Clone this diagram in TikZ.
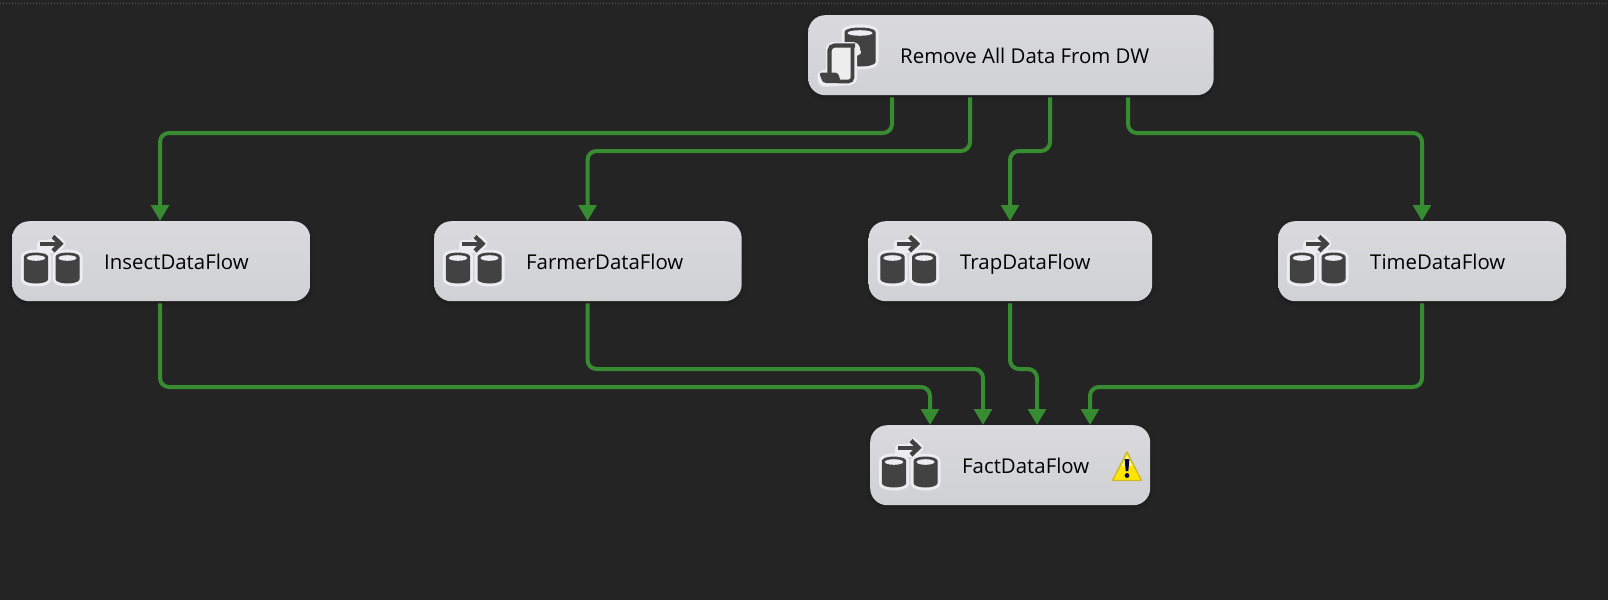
\documentclass[tikz,border=0pt]{standalone}
\usepackage{fontspec}
\setmainfont{Open Sans}
\usetikzlibrary{arrows.meta,shadows.blur}
\definecolor{bgc}{HTML}{242424}
\definecolor{flowc}{HTML}{378C32}
\definecolor{icoc}{HTML}{424242}
\definecolor{haloc}{HTML}{EDEDEF}
\definecolor{boxtop}{HTML}{DADADE}
\definecolor{boxbot}{HTML}{D0D1D3}
\tikzset{
  x=1pt,y=-1pt,
  taskbox/.style={rounded corners=17pt,inner sep=0pt,top color=boxtop,bottom color=boxbot,draw=none,anchor=north west,blur shadow={shadow xshift=0pt,shadow yshift=-2pt,shadow blur radius=4pt,shadow opacity=25}},
  tasklabel/.style={anchor=base west,inner sep=0pt,font=\fontsize{20.4}{24}\selectfont,text=black},
  flow/.style={draw=flowc,line width=4pt,rounded corners=9pt,-{Triangle[length=16pt,width=17.5pt,fill=flowc]}},
  pics/barrel/.style args={#1/#2}{code={
    \path[fill=haloc,draw=haloc,line width=7pt,line join=round]
      (0,4) arc[start angle=180,end angle=0,x radius=#1/2,y radius=-4] -- (#1,#2-4)
      arc[start angle=0,end angle=180,x radius=#1/2,y radius=4] -- cycle;
    \path[fill=icoc,draw=icoc,line width=1pt,line join=round]
      (0,4) arc[start angle=180,end angle=0,x radius=#1/2,y radius=-4] -- (#1,#2-4)
      arc[start angle=0,end angle=180,x radius=#1/2,y radius=4] -- cycle;
    \fill[haloc] (#1/2,5) ellipse ({#1/2-2.5} and 2.8);
  }},
  pics/flowicon/.style={code={
    \pic at (12.3,32) {barrel=23.4/30};
    \pic at (44,32) {barrel=23/30};
    \fill[haloc,rounded corners=4pt] (25,19) -- (40,19) -- (40,13) -- (46,13) -- (55,22.7) -- (46,32) -- (25,32) -- cycle;
    \draw[icoc,line width=4.4pt] (28,22.7) -- (47,22.7);
    \draw[icoc,line width=4.4pt,line join=miter] (41,15.5) -- (48.5,22.7) -- (41,30);
  }},
}
\begin{document}
\begin{tikzpicture}
\useasboundingbox (0,0) rectangle (1608,600);
\fill[bgc] (0,0) rectangle (1608,600);
\draw[draw=white!25!bgc,line width=1pt,dotted] (0,3.5) -- (1608,3.5);

% boxes
\node[taskbox,minimum width=405.5pt,minimum height=80pt] (rm) at (808,15) {};
\node[taskbox,minimum width=298pt,minimum height=80pt] (ins) at (12,221) {};
\node[taskbox,minimum width=307.5pt,minimum height=80pt] (far) at (434,221) {};
\node[taskbox,minimum width=283.5pt,minimum height=80pt] (trp) at (868.5,221) {};
\node[taskbox,minimum width=288pt,minimum height=80pt] (tim) at (1278,221) {};
\node[taskbox,minimum width=280pt,minimum height=80pt] (fct) at (870,425) {};

% labels
\node[tasklabel] (lrm) at (900,63.5) {Remove All Data From DW};
\node[tasklabel] (lins) at (104,269.5) {InsectDataFlow};
\node[tasklabel] (lfar) at (526,269.5) {FarmerDataFlow};
\node[tasklabel] (ltrp) at (960,269.5) {TrapDataFlow};
\node[tasklabel] (ltim) at (1370,269.5) {TimeDataFlow};
\node[tasklabel] (lfct) at (962,473.5) {FactDataFlow};

% icons
\pic at (12,221) {flowicon};
\pic at (434,221) {flowicon};
\pic at (868.5,221) {flowicon};
\pic at (1278,221) {flowicon};
\pic at (870,425) {flowicon};

% remove icon
\pic at (845,28) {barrel=30/38};
\fill[haloc,draw=haloc,line width=6pt,line join=round,rounded corners=4pt]
  (829,45) -- (857,45) -- (857,52) -- (854,52) -- (854,82) -- (821,84) -- (820,73) -- (829,73) -- cycle;
\fill[white!93!black] (831,47) rectangle (851,80);
\draw[icoc,line width=4.2pt,rounded corners=5pt]
  (829.5,73) -- (829.5,45.5) -- (855,45.5);
\draw[icoc,line width=3.6pt,rounded corners=4pt]
  (852.5,47) -- (852.5,81.5) -- (838,81.5);
\fill[icoc,rounded corners=3pt] (819,72.5) -- (838,72.5) -- (841,83) -- (823,83) -- cycle;

% warning
\fill[yellow!88!orange,draw=black!25!yellow!85!orange,line width=1.4pt,line join=round] (1127,452) -- (1141.5,480.5) -- (1112.5,480.5) -- cycle;
\fill[yellow!45!white] (1127,455) -- (1132.5,466) -- (1121.5,466) -- cycle;
\fill[black!75!blue] (1124.6,459) -- (1129.4,459) -- (1128.3,471) -- (1125.7,471) -- cycle;
\fill[black!75!blue] (1127,475.5) circle (2.4);

% connectors
\draw[flow] ([xshift=84pt,yshift=-2pt]rm.south west) -- (892,133) -- (160,133) -- ([xshift=148pt]ins.north west);
\draw[flow] ([xshift=162pt,yshift=-2pt]rm.south west) -- (970,151) -- (587.5,151) -- ([xshift=153.5pt]far.north west);
\draw[flow] ([xshift=242pt,yshift=-2pt]rm.south west) -- (1050,151) -- (1010,151) -- ([xshift=141.5pt]trp.north west);
\draw[flow] ([xshift=320pt,yshift=-2pt]rm.south west) -- (1128,133) -- (1422,133) -- ([xshift=144pt]tim.north west);
\draw[flow] ([xshift=148pt,yshift=-2pt]ins.south west) -- (160,387) -- (930,387) -- ([xshift=60pt]fct.north west);
\draw[flow] ([xshift=153.5pt,yshift=-2pt]far.south west) -- (587.5,369) -- (983,369) -- ([xshift=113pt]fct.north west);
\draw[flow] ([xshift=141.5pt,yshift=-2pt]trp.south west) -- (1010,369) -- (1037,369) -- ([xshift=167pt]fct.north west);
\draw[flow] ([xshift=144pt,yshift=-2pt]tim.south west) -- (1422,387) -- (1090,387) -- ([xshift=220pt]fct.north west);
\end{tikzpicture}
\end{document}
